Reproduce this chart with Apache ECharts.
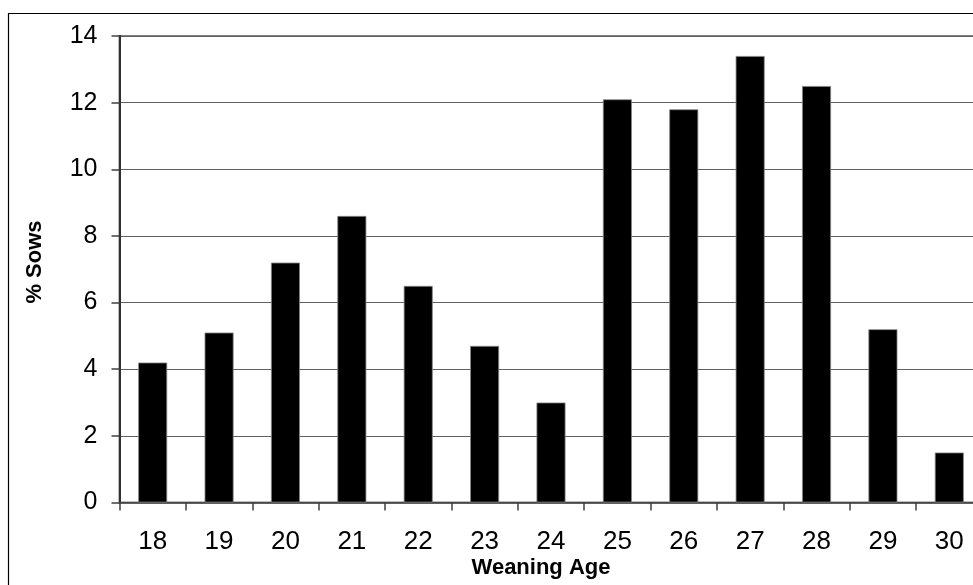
<!DOCTYPE html>
<html>
<head>
<meta charset="utf-8">
<script src="https://cdn.jsdelivr.net/npm/echarts@6/dist/echarts.min.js"></script>
<style>
html,body{margin:0;padding:0;background:#fff;}
#chart{width:973px;height:585px;}
</style>
</head>
<body>
<div id="chart"></div>
<script>
const categories = ['18','19','20','21','22','23','24','25','26','27','28','29','30'];
const sowsPct = [4.2, 5.1, 7.2, 8.6, 6.5, 4.7, 3.0, 12.1, 11.8, 13.4, 12.5, 5.2, 1.5];
const yTicks = [0, 2, 4, 6, 8, 10, 12, 14];
const xTitle = 'Weaning Age';
const yTitle = '% Sows';

const chart = echarts.init(document.getElementById('chart'));
const font = '"Liberation Sans", Arial, sans-serif';
chart.setOption({
  animation: false,
  backgroundColor: '#fff',
  grid: {
    left: 119.5, top: 36, width: 863, bottom: 82.5,
    outerBoundsMode: 'none', containLabel: false,
    show: true, borderColor: '#808080', borderWidth: 2, backgroundColor: 'transparent'
  },
  xAxis: {
    type: 'category',
    data: categories,
    axisLine: { lineStyle: { color: '#404040', width: 1.5 } },
    axisTick: { show: true, length: 8, lineStyle: { color: '#404040', width: 1.5 } },
    axisLabel: { color: '#000', fontSize: 26, fontFamily: font, margin: 26 },
    splitLine: { show: false }
  },
  yAxis: {
    type: 'value',
    min: yTicks[0], max: yTicks[yTicks.length - 1], interval: 2,
    axisLine: { show: true, lineStyle: { color: '#303030', width: 2 } },
    axisTick: { show: true, length: 8, lineStyle: { color: '#404040', width: 1.5 } },
    axisLabel: { color: '#000', fontSize: 25, fontFamily: font, margin: 22 },
    splitLine: { show: true, lineStyle: { color: '#606060', width: 1.2 } }
  },
  series: [{
    type: 'bar',
    data: sowsPct,
    barWidth: 29,
    itemStyle: { color: '#000', borderColor: '#888', borderWidth: 0.8 }
  }],
  graphic: [
    { type: 'rect', shape: { x: 8.5, y: 13.5, width: 1000, height: 600 },
      style: { fill: 'none', stroke: '#000', lineWidth: 1.2 }, z: 100 },
    { type: 'text', x: 541, y: 568,
      style: { text: xTitle, font: 'bold 22px "Liberation Sans", Arial, sans-serif', fill: '#000',
        textAlign: 'center', textVerticalAlign: 'middle' }, z: 100 },
    { type: 'text', x: 35, y: 262, rotation: Math.PI / 2,
      style: { text: yTitle, font: 'bold 22px "Liberation Sans", Arial, sans-serif', fill: '#000',
        textAlign: 'center', textVerticalAlign: 'middle' }, z: 100 }
  ]
});
</script>
</body>
</html>
